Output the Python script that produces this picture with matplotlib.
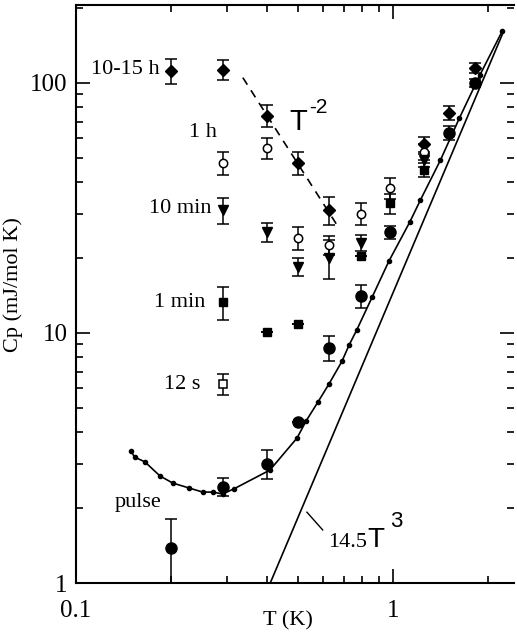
import numpy as np
import matplotlib.pyplot as plt
from matplotlib.ticker import LogLocator, NullFormatter, FixedLocator, FixedFormatter

plt.rcParams['font.family'] = ['Liberation Serif', 'DejaVu Serif']

# data: T in K, Cp in mJ/mol K
t_1015h = [0.2, 0.29, 0.4, 0.5, 0.63, 1.25, 1.5, 1.81]
c_1015h = [112, 113, 74, 48, 31, 57, 76, 115]
e_1015h = [13, 10, 7.5, 5, 4, 4, 5, 5]

t_1h = [0.29, 0.4, 0.5, 0.63, 0.79, 0.98, 1.25]
c_1h = [48, 55, 24, 22.5, 30, 38, 53]
e_1h = [5, 5.5, 2.5, 2, 3, 3.5, 4]

t_10min = [0.29, 0.4, 0.5, 0.63, 0.79, 1.25]
c_10min = [31, 25.3, 18.4, 20, 22.9, 49]
e_10min = [3.6, 2.2, 1.5, 3.5, 1.7, 3]

t_1min = [0.29, 0.4, 0.5, 0.79, 0.98, 1.25]
c_1min = [13.3, 10.1, 10.9, 20.3, 33, 45]
e_1min = [2, 0, 0, 0, 3, 3]

t_12s = [0.29]
c_12s = [6.25]
e_12s = [0.6]

t_pulse = [0.2, 0.29, 0.4, 0.5, 0.63, 0.79, 0.98, 1.5, 1.81]
c_pulse = [1.38, 2.42, 3.0, 4.4, 8.7, 14.1, 25.3, 63, 100]
e_pulse = [0.42, 0.2, 0.4, 0, 1.0, 1.5, 1.5, 4, 4]

# fitted curve (line with small dots)
t_fit = [0.149, 0.153, 0.165, 0.184, 0.202, 0.227, 0.251, 0.270, 0.29, 0.315,
         0.409, 0.498, 0.532, 0.58, 0.628, 0.69, 0.727, 0.769, 0.859, 0.971,
         1.13, 1.22, 1.41, 1.62, 1.88, 2.21]
c_fit = [3.37, 3.19, 3.05, 2.68, 2.51, 2.40, 2.31, 2.31, 2.27, 2.38,
         2.83, 3.8, 4.45, 5.3, 6.25, 7.7, 8.95, 10.3, 13.9, 19.4,
         27.8, 34, 49, 72.4, 107.6, 161]

# 14.5 T^3 phonon line and T^-2 guide
t_phonon = [0.41, 2.21]
c_phonon = [1.0, 156]
t_inv2 = [0.336, 0.666]
c_inv2 = [105, 27]

fig = plt.figure(figsize=(5.17, 6.33), dpi=100)
ax = fig.add_axes([76 / 517, 50 / 633, 438 / 517, 578 / 633])
ax.set_xscale('log')
ax.set_yscale('log')
ax.set_xlim(0.1, 2.408)
ax.set_ylim(1, 205)

eb = dict(ls='none', color='black', ecolor='black', elinewidth=1.1,
          capsize=4, capthick=1.1)
ax.errorbar(t_1015h, c_1015h, yerr=e_1015h, marker='D', ms=6, **eb)
ax.errorbar(t_1h, c_1h, yerr=e_1h, marker='o', ms=6, mfc='white', mew=1.1, **eb)
ax.errorbar(t_10min, c_10min, yerr=e_10min, marker='v', ms=7, **eb)
ax.errorbar(t_1min, c_1min, yerr=e_1min, marker='s', ms=6, **eb)
ax.errorbar(t_12s, c_12s, yerr=e_12s, marker='s', ms=6, mfc='white', mew=1.1, **eb)
ax.errorbar(t_pulse, c_pulse, yerr=e_pulse, marker='o', ms=8, **eb)

ax.plot(t_fit, c_fit, color='black', lw=1.2, marker='o', ms=3)
ax.plot(t_phonon, c_phonon, color='black', lw=1.2)
ax.plot(t_inv2, c_inv2, color='black', lw=1.2, ls=(0, (5, 4)))

# labels
lab = dict(fontsize=16, va='center')
ax.text(0.184, 113, '10-15 h', ha='right', **lab)
ax.text(0.251, 63.5, '1 h', ha='center', **lab)
ax.text(0.268, 31.6, '10 min', ha='right', **lab)
ax.text(0.255, 13.3, '1 min', ha='right', **lab)
ax.text(0.246, 6.25, '12 s', ha='right', **lab)
ax.text(0.157, 2.09, 'pulse', ha='center', **lab)

ax.text(0.472, 65, 'T', family='Liberation Sans', fontsize=21, va='baseline')
ax.text(0.544, 80, '-2', family='Liberation Sans', fontsize=15, va='center')

ax.plot([0.535, 0.6], [1.92, 1.63], color='black', lw=1)
ax.text(0.624, 1.39, '14.5', fontsize=16, va='baseline')
ax.text(0.83, 1.39, 'T', family='Liberation Sans', fontsize=20, va='baseline')
ax.text(0.978, 1.77, '3', family='Liberation Sans', fontsize=16, va='center')

# axes styling
ax.spines['right'].set_visible(False)
for s in ['left', 'bottom', 'top']:
    ax.spines[s].set_linewidth(1.5)
ax.xaxis.set_major_locator(FixedLocator([0.1, 1]))
ax.xaxis.set_major_formatter(FixedFormatter(['0.1', '1']))
ax.xaxis.set_minor_locator(LogLocator(base=10, subs=np.arange(2, 10)))
ax.xaxis.set_minor_formatter(NullFormatter())
ax.yaxis.set_major_locator(FixedLocator([1, 10, 100]))
ax.yaxis.set_major_formatter(FixedFormatter(['1', '10', '100']))
ax.yaxis.set_minor_locator(LogLocator(base=10, subs=np.arange(2, 10)))
ax.yaxis.set_minor_formatter(NullFormatter())
ax.tick_params(which='both', direction='in', top=True, right=True, width=1.2)
ax.tick_params(which='major', length=10)
ax.tick_params(which='minor', length=5)
ax.tick_params(axis='x', which='major', pad=12, labelsize=18)
ax.tick_params(axis='y', which='major', pad=6, labelsize=18)

ax.set_xlabel('T (K)', fontsize=16)
ax.xaxis.set_label_coords(0.484, -0.048)
ax.set_ylabel('Cp (mJ/mol K)', fontsize=16)
ax.yaxis.set_label_coords(-0.122, 0.516)

fig.savefig('out.png', dpi=100)
